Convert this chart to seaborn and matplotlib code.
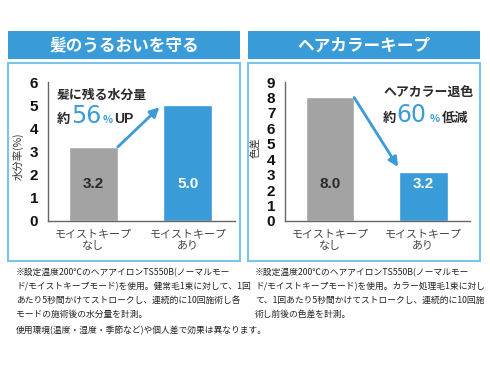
import matplotlib
matplotlib.use("Agg")
import matplotlib.pyplot as plt
import matplotlib.patches as mpatches
import seaborn as sns
import pandas as pd

# ---- data ----
categories = ["モイストキープ\nなし", "モイストキープ\nあり"]
moisture_values = [3.2, 5.0]
color_diff_values = [8.0, 3.2]
moisture_ticks = [0, 1, 2, 3, 4, 5, 6]
color_ticks = [0, 1, 2, 3, 4, 5, 6, 7, 8, 9]
left_title = "髪のうるおいを守る"
right_title = "ヘアカラーキープ"
left_ylabel = "水分率(%)"
right_ylabel = "色差"
left_note = ["※設定温度200℃のヘアアイロンTS550B(ノーマルモー",
             "ド/モイストキープモード)を使用。健常毛1束に対して、1回",
             "あたり5秒間かけてストロークし、連続的に10回施術し各",
             "モードの施術後の水分量を計測。"]
right_note = ["※設定温度200℃のヘアアイロンTS550B(ノーマルモー",
              "ド/モイストキープモード)を使用。カラー処理毛1束に対し",
              "て、1回あたり5秒間かけてストロークし、連続的に10回施",
              "術し前後の色差を計測。"]
common_note = "使用環境(温度・湿度・季節など)や個人差で効果は異なります。"

sns.set_style("white")
plt.rcParams['font.family'] = ['Noto Sans CJK JP', 'DejaVu Sans']

BLUE = "#3a9bd9"
GRAY = "#a3a3a3"
FRAME = "#7cc3ea"
DARK = "#2a2a2a"

W, H = 490, 368
fig = plt.figure(figsize=(W / 100, H / 100), dpi=100)
fig.patch.set_facecolor("white")


def rect(x0, y0, x1, y1):
    return [x0 / W, 1 - y1 / H, (x1 - x0) / W, (y1 - y0) / H]


def ftext(x, y, s, **kw):
    fig.text(x / W, 1 - y / H, s, **kw)


# headers and frames
for (x0, x1, title) in [(8, 240, left_title), (248, 480, right_title)]:
    fig.patches.append(mpatches.Rectangle((x0 / W, 1 - 59 / H), (x1 - x0) / W, 28 / H,
                                          transform=fig.transFigure, facecolor=BLUE,
                                          edgecolor="none", zorder=-1))
    ftext((x0 + x1) / 2, 45.5, title, ha="center", va="center", color="white",
          fontsize=12, fontweight="bold")
    fig.patches.append(mpatches.Rectangle((x0 / W, 1 - 261 / H), (x1 - x0) / W, 198 / H,
                                          transform=fig.transFigure, facecolor="none",
                                          edgecolor=FRAME, lw=1.5, zorder=-1))


def panel(axrect, values, ticks):
    ax = fig.add_axes(axrect)
    ax.set_facecolor("none")
    df = pd.DataFrame({"cat": categories, "val": values})
    sns.barplot(data=df, x="cat", y="val", hue="cat", palette=[GRAY, BLUE],
                width=0.52, legend=False, ax=ax, saturation=1)
    ax.set_ylim(0, ticks[-1])
    ax.set_xlim(-0.48, 1.5)
    ax.set_yticks(ticks)
    ax.set_yticklabels([str(t) for t in ticks], fontsize=11, fontweight="bold",
                       family=["Liberation Sans", "DejaVu Sans"], color="#111")
    ax.tick_params(axis="y", length=0, pad=7)
    ax.tick_params(axis="x", length=0, pad=6, labelsize=7.9, labelcolor="#444")
    for lab in ax.get_xticklabels():
        lab.set_linespacing(1.15)
    ax.set_xlabel("")
    ax.set_ylabel("")
    for s in ["top", "right"]:
        ax.spines[s].set_visible(False)
    for s in ["left", "bottom"]:
        ax.spines[s].set_color("#666")
        ax.spines[s].set_linewidth(1)
    return ax


axL = panel(rect(48, 82, 235, 221), moisture_values, moisture_ticks)
axR = panel(rect(285, 82, 470, 221), color_diff_values, color_ticks)

ftext(18, 156, left_ylabel, rotation=90, ha="center", va="center", fontsize=7.5, color="#333")
ftext(256, 148, right_ylabel, rotation=90, ha="center", va="center", fontsize=7.5, color="#333")

# value labels inside bars
for ax, vals in [(axL, moisture_values), (axR, color_diff_values)]:
    ymax = ax.get_ylim()[1]
    for i, v in enumerate(vals):
        ax.text(i, ymax * (221 - 184) / 139, f"{v:.1f}", ha="center", va="center",
                fontsize=11, fontweight="bold", family=["Liberation Sans", "DejaVu Sans"],
                color=DARK if i == 0 else "white")

# arrows
axL.annotate("", xy=(0.70, 4.91), xytext=(0.26, 3.2),
             arrowprops=dict(arrowstyle="-|>", color=BLUE, lw=2, mutation_scale=14,
                             shrinkA=0, shrinkB=0))
axR.annotate("", xy=(0.73, 3.5), xytext=(0.26, 8.0),
             arrowprops=dict(arrowstyle="-|>", color=BLUE, lw=2, mutation_scale=14,
                             shrinkA=0, shrinkB=0))

# callout texts
ftext(57, 95, "髪に残る水分量", ha="left", va="center", fontsize=9.3, fontweight="bold", color=DARK)
ftext(57, 123, "約", ha="left", va="baseline", fontsize=9.5, fontweight="bold", color=DARK)
ftext(71, 123, "56", ha="left", va="baseline", fontsize=17, color=BLUE,
      family=["DejaVu Sans"])
ftext(103, 123, "%", ha="left", va="baseline", fontsize=7.5, color=BLUE, fontweight="bold")
ftext(114, 123, "UP", ha="left", va="baseline", fontsize=10, fontweight="bold", color=DARK,
      family=["Liberation Sans", "DejaVu Sans"])

ftext(383, 93, "ヘアカラー退色", ha="left", va="center", fontsize=9.3, fontweight="bold", color=DARK)
ftext(383, 122, "約", ha="left", va="baseline", fontsize=9.5, fontweight="bold", color=DARK)
ftext(396, 122, "60", ha="left", va="baseline", fontsize=17, color=BLUE,
      family=["DejaVu Sans"])
ftext(430, 122, "%", ha="left", va="baseline", fontsize=7.5, color=BLUE, fontweight="bold")
ftext(442, 122, "低減", ha="left", va="baseline", fontsize=9.5, fontweight="bold", color=DARK)

# footnotes
for i, line in enumerate(left_note):
    ftext(16, 273 + i * 13.8, line, ha="left", va="center", fontsize=6.3, color="#222")
for i, line in enumerate(right_note):
    ftext(255, 273 + i * 13.8, line, ha="left", va="center", fontsize=6.3, color="#222")
ftext(16, 331, common_note, ha="left", va="center", fontsize=6.3, color="#222")

fig.savefig("out.png", dpi=100, facecolor="white")
